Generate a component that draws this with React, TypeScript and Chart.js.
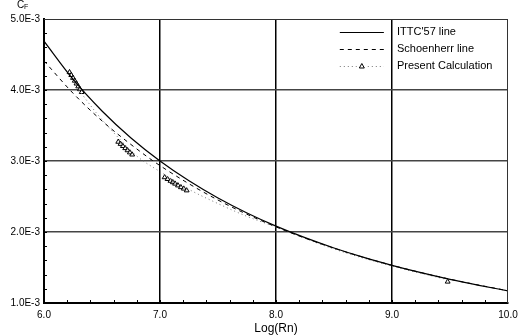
import React, { useEffect, useRef } from "react";
import { Chart, registerables } from "chart.js";
Chart.register(...registerables);

// Log(Rn) positions and CF values (in units of 1E-3)
const ittcX = [6, 6.25, 6.5, 6.75, 7, 7.25, 7.5, 7.75, 8, 8.25, 8.5, 8.75, 9, 9.25, 9.5, 9.75, 10];
const ittcY = [4.688, 4.152, 3.704, 3.324, 3.0, 2.721, 2.479, 2.268, 2.083, 1.92, 1.775, 1.646, 1.531, 1.427, 1.333, 1.249, 1.172];

const schX = [6, 6.25, 6.5, 6.75, 7, 7.5, 8, 8.5, 9, 9.5, 10];
const schY = [4.41, 3.955, 3.565, 3.232, 2.935, 2.45, 2.072, 1.772, 1.531, 1.335, 1.172];

const presLineX = [6.3, 6.45, 6.6, 6.8, 7.0, 7.25, 7.5, 7.75, 8.0, 8.5, 9.0, 9.5];
const presLineY = [4.0, 3.68, 3.4, 3.07, 2.85, 2.6, 2.4, 2.22, 2.07, 1.76, 1.52, 1.32];

const presPtX = [6.22, 6.235, 6.25, 6.265, 6.28, 6.295, 6.31, 6.325,
  6.64, 6.66, 6.68, 6.70, 6.72, 6.74, 6.76,
  7.04, 7.065, 7.09, 7.11, 7.13, 7.155, 7.18, 7.205, 7.23,
  9.48];
const presPtY = [4.25, 4.21, 4.17, 4.13, 4.09, 4.05, 4.01, 3.97,
  3.27, 3.24, 3.21, 3.18, 3.15, 3.12, 3.09,
  2.77, 2.745, 2.72, 2.70, 2.68, 2.655, 2.63, 2.61, 2.585,
  1.30];

const legendLabels = ["ITTC'57 line", "Schoenherr line", "Present Calculation"];
const xTicks = [6, 7, 8, 9, 10];
const yTicks = [1, 2, 3, 4, 5];

const FONT = "'Liberation Sans', Arial, sans-serif";

const zip = (xs: number[], ys: number[]) => xs.map((x, i) => ({ x, y: ys[i] }));

const decorPlugin = {
  id: "decor",
  afterDraw(chart: any) {
    const { ctx, chartArea: a, scales } = chart;
    const xs = scales.x;
    const ys = scales.y;
    ctx.save();
    // top and right border
    ctx.strokeStyle = "#333";
    ctx.lineWidth = 1;
    ctx.beginPath();
    ctx.moveTo(a.left, a.top + 0.5);
    ctx.lineTo(a.right, a.top + 0.5);
    ctx.moveTo(a.right - 0.5, a.top);
    ctx.lineTo(a.right - 0.5, a.bottom);
    ctx.stroke();
    // minor ticks (inward)
    ctx.strokeStyle = "#000";
    ctx.lineWidth = 1;
    ctx.beginPath();
    for (let i = 1; i < 20; i++) {
      const v = 6 + i * 0.2;
      const px = Math.round(xs.getPixelForValue(v)) + 0.5;
      ctx.moveTo(px, a.bottom);
      ctx.lineTo(px, a.bottom - 3);
    }
    for (let i = 1; i < 20; i++) {
      const v = 1 + i * 0.2;
      const py = Math.round(ys.getPixelForValue(v)) + 0.5;
      ctx.moveTo(a.left, py);
      ctx.lineTo(a.left + 3, py);
    }
    ctx.stroke();
    // CF title
    ctx.fillStyle = "#000";
    ctx.textBaseline = "alphabetic";
    ctx.textAlign = "left";
    ctx.font = `10px ${FONT}`;
    ctx.fillText("C", 17, 8);
    ctx.font = `7px ${FONT}`;
    ctx.fillText("F", 24, 9);
    // legend
    const lx0 = xs.getPixelForValue(8.55);
    const lx1 = xs.getPixelForValue(8.93);
    const tx = xs.getPixelForValue(9) + 5;
    const rows = [32, 49, 66];
    ctx.font = `11px ${FONT}`;
    ctx.textBaseline = "middle";
    ctx.fillStyle = "#000";
    legendLabels.forEach((t, i) => ctx.fillText(t, tx, rows[i]));
    ctx.lineWidth = 1;
    ctx.strokeStyle = "#000";
    ctx.beginPath();
    ctx.moveTo(lx0, rows[0] + 0.5);
    ctx.lineTo(lx1, rows[0] + 0.5);
    ctx.stroke();
    ctx.setLineDash([4, 4]);
    ctx.beginPath();
    ctx.moveTo(lx0, rows[1] + 0.5);
    ctx.lineTo(lx1, rows[1] + 0.5);
    ctx.stroke();
    ctx.setLineDash([1, 3]);
    ctx.strokeStyle = "#777";
    ctx.beginPath();
    ctx.moveTo(lx0, rows[2] + 0.5);
    ctx.lineTo(lx1, rows[2] + 0.5);
    ctx.stroke();
    ctx.setLineDash([]);
    const cx = (lx0 + lx1) / 2;
    ctx.fillStyle = "#fff";
    ctx.fillRect(cx - 5, rows[2] - 4, 10, 8);
    ctx.strokeStyle = "#000";
    ctx.beginPath();
    ctx.moveTo(cx, rows[2] - 2.5);
    ctx.lineTo(cx + 2.5, rows[2] + 2);
    ctx.lineTo(cx - 2.5, rows[2] + 2);
    ctx.closePath();
    ctx.stroke();
    ctx.restore();
  },
};

export default function App() {
  const ref = useRef<HTMLCanvasElement>(null);
  useEffect(() => {
    document.body.style.margin = "0";
    const chart = new Chart(ref.current!, {
      type: "line",
      data: {
        datasets: [
          {
            label: legendLabels[0],
            data: zip(ittcX, ittcY),
            borderColor: "#000",
            borderWidth: 1.2,
            pointRadius: 0,
            cubicInterpolationMode: "monotone",
          },
          {
            label: legendLabels[1],
            data: zip(schX, schY),
            borderColor: "#000",
            borderWidth: 1,
            borderDash: [4, 4],
            pointRadius: 0,
            cubicInterpolationMode: "monotone",
          },
          {
            label: legendLabels[2],
            data: zip(presLineX, presLineY),
            borderColor: "#777",
            borderWidth: 1,
            borderDash: [1, 3],
            pointRadius: 0,
            cubicInterpolationMode: "monotone",
          },
          {
            label: legendLabels[2] + " points",
            data: zip(presPtX, presPtY),
            showLine: false,
            pointStyle: "triangle",
            pointRadius: 2.8,
            borderWidth: 1,
            borderColor: "#000",
            backgroundColor: "rgba(255,255,255,0.6)",
          },
        ],
      },
      options: {
        responsive: false,
        animation: false,
        layout: { padding: { top: 19, right: 18, left: 0, bottom: 0 } },
        plugins: { legend: { display: false }, tooltip: { enabled: false } },
        scales: {
          x: {
            type: "linear",
            min: 6,
            max: 10,
            afterFit: (s: any) => { s.height = 33; },
            afterBuildTicks: (s: any) => { s.ticks = xTicks.map((v) => ({ value: v })); },
            ticks: {
              callback: (v: any) => Number(v).toFixed(1),
              font: { family: FONT, size: 10 },
              color: "#000",
              padding: 6,
              maxRotation: 0,
              autoSkip: false,
            },
            grid: {
              drawTicks: false,
              color: (c: any) => (c.tick && c.tick.value > 6 && c.tick.value < 10 ? "#000" : "rgba(0,0,0,0)"),
              lineWidth: 1.5,
            },
            border: { display: true, color: "#000", width: 2 },
            title: {
              display: true,
              text: "Log(Rn)",
              font: { family: FONT, size: 12 },
              color: "#000",
              padding: { top: 0, bottom: 0 },
            },
          },
          y: {
            type: "linear",
            min: 1,
            max: 5,
            afterFit: (s: any) => { s.width = 44; },
            afterBuildTicks: (s: any) => { s.ticks = yTicks.map((v) => ({ value: v })); },
            ticks: {
              callback: (v: any) => Number(v).toFixed(1) + "E-3",
              font: { family: FONT, size: 10 },
              color: "#000",
              padding: 4,
            },
            grid: {
              drawTicks: false,
              color: (c: any) => (c.tick && c.tick.value > 1 && c.tick.value < 5 ? "#444" : "rgba(0,0,0,0)"),
              lineWidth: 1.5,
            },
            border: { display: true, color: "#000", width: 2 },
          },
        },
      },
      plugins: [decorPlugin],
    } as any);
    return () => chart.destroy();
  }, []);
  return <canvas ref={ref} width={526} height={336} style={{ display: "block", width: 526, height: 336 }} />;
}
